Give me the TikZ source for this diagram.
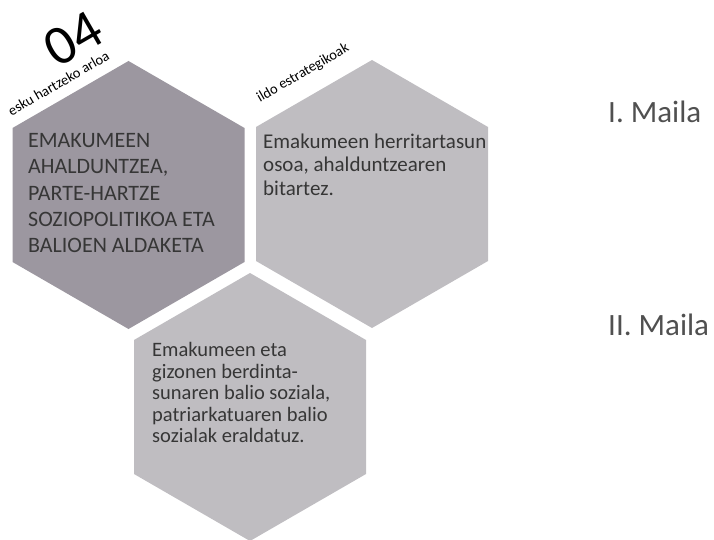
\documentclass[tikz,border=0pt]{standalone}
\usepackage{fontspec}
\setmainfont{Carlito}
\definecolor{hexdark}{HTML}{9C97A0}
\definecolor{hexlight}{HTML}{BFBDC1}
\definecolor{txt}{HTML}{363636}
\definecolor{mailatxt}{HTML}{505050}
\tikzset{
  hexd/.style={fill=hexdark,draw=none},
  hexl/.style={fill=hexlight,draw=none},
  bodytxt/.style={anchor=north west,align=left,inner sep=0pt,text=txt},
  edgelbl/.style={anchor=base,inner sep=0pt,rotate=30,text=black,font=\fontsize{14.5}{16}\selectfont},
  maila/.style={anchor=base west,inner sep=0pt,text=mailatxt,font=\fontsize{31}{36}\selectfont}
}
\newcommand{\hexpath}[3]{% center x, center y, style
  \fill[#3] (#1,#2-134) -- (#1+116,#2-67) -- (#1+116,#2+67) -- (#1,#2+134) -- (#1-116,#2+67) -- (#1-116,#2-67) -- cycle;}
\begin{document}
\begin{tikzpicture}[x=1pt,y=-1pt]
\useasboundingbox (0,0) rectangle (714,540);
\begin{scope}
\clip (0,0) rectangle (714,540);
\hexpath{128.5}{195}{hexd}
\hexpath{372}{194}{hexl}
\hexpath{250}{407}{hexl}
\end{scope}
\node[anchor=center,inner sep=0pt,rotate=30,font=\fontsize{56}{60}\selectfont] (num) at (73.5,38.5) {04};
\node[edgelbl] (area) at (61,87.5) {esku hartzeko arloa};
\node[edgelbl] (ildo) at (305,76.5) {ildo estrategikoak};
\node[bodytxt,font=\fontsize{22}{26.4}\selectfont] (t1) at (28,133) {EMAKUMEEN\\AHALDUNTZEA,\\PARTE-HARTZE\\SOZIOPOLITIKOA ETA\\BALIOEN ALDAKETA};
\node[bodytxt,font=\fontsize{21}{23.5}\selectfont] (t2) at (263,133.5) {Emakumeen herritartasun\\osoa, ahalduntzearen\\bitartez.};
\node[bodytxt,font=\fontsize{20.5}{21.4}\selectfont] (t3) at (152,342.5) {Emakumeen eta\\gizonen berdinta-\\sunaren balio soziala,\\patriarkatuaren balio\\sozialak eraldatuz.};
\node[maila] (m1) at (608,123) {I. Maila};
\node[maila] (m2) at (608,335) {II. Maila};
\end{tikzpicture}
\end{document}
